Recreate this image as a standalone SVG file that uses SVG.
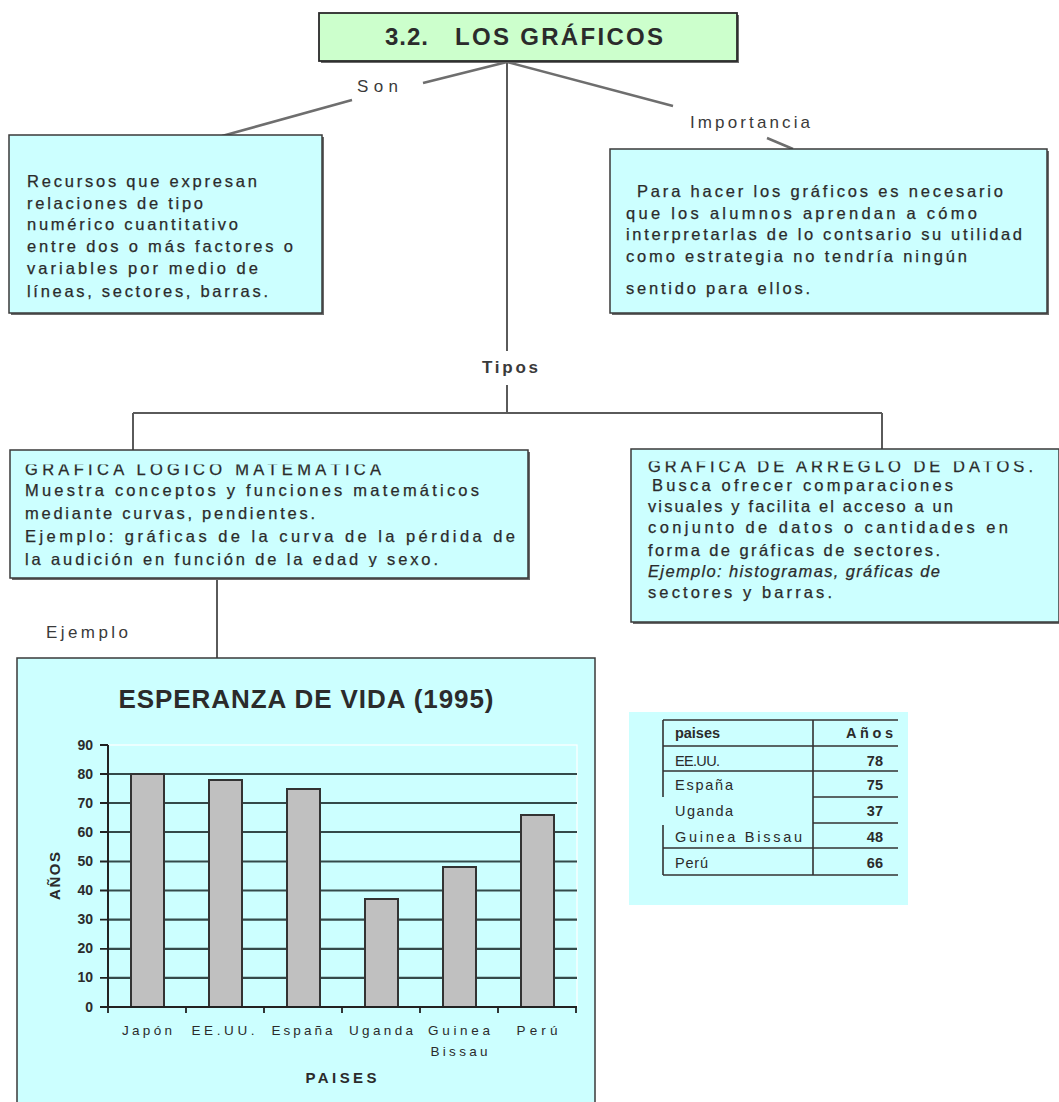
<svg xmlns="http://www.w3.org/2000/svg" width="1059" height="1102" viewBox="0 0 1059 1102">
  <style>
    text { font-family: "Liberation Sans", Arial, sans-serif; fill: #2b2b2b; }
    .body { font-size: 16.5px; stroke: #2b2b2b; stroke-width: 0.25; }
    .lbl { font-size: 17px; fill: #3a3a3a; }
    .box { fill: #ccffff; stroke: #3a3a3a; stroke-width: 1.5; }
    .shadow { fill: #6a6a6a; }
    .conn { stroke: #5a5a5a; stroke-width: 2; fill: none; }
    .slant { stroke: #6e6e6e; stroke-width: 2.5; fill: none; }
    .grid { stroke: #344a4a; stroke-width: 2.2; }
    .bar { fill: #c0c0c0; stroke: #333; stroke-width: 2; }
    .ytick { font-size: 14px; font-weight: bold; text-anchor: end; }
    .xcat { font-size: 13.5px; text-anchor: middle; }
    .tcell { font-size: 14.5px; }
    .tline { stroke: #333; stroke-width: 1.6; fill: none; }
  </style>
  <defs>
    <clipPath id="clipLogico"><rect x="10" y="464.5" width="518" height="102.5"/></clipPath>
    <clipPath id="clipArreglo"><rect x="631" y="461.5" width="428" height="159"/></clipPath>
  </defs>

  <rect x="0" y="0" width="1059" height="1102" fill="#ffffff"/>

  <!-- connectors and their labels -->
  <g id="connectors">
    <path class="slant" d="M507,62 L423,83"/>
    <path class="slant" d="M352,100 L222,136"/>
    <path class="slant" d="M507,62 L673,106"/>
    <path class="slant" d="M767,138 L793,149"/>
    <path class="conn" d="M507,62 V351"/>
    <path class="conn" d="M507,385 V413"/>
    <path class="conn" d="M133,413 H882"/>
    <path class="conn" d="M133,413 V450"/>
    <path class="conn" d="M882,413 V449"/>
    <path class="conn" d="M217,578 V658"/>
    <text class="lbl" x="357" y="92" textLength="41">Son</text>
    <text class="lbl" x="690" y="128" textLength="120">Importancia</text>
    <text class="lbl" x="482" y="373" font-weight="bold" textLength="56">Tipos</text>
    <text class="lbl" x="46" y="638" textLength="82">Ejemplo</text>
  </g>

  <!-- main title -->
  <g id="titulo">
    <rect x="321" y="15" width="418" height="48" class="shadow"/>
    <rect x="319" y="13" width="418" height="48" fill="#ccffcc" stroke="#2a2a2a" stroke-width="1.8"/>
    <text x="385" y="45" font-size="24" font-weight="bold" textLength="43">3.2.</text>
    <text x="455" y="45" font-size="24" font-weight="bold" textLength="208">LOS GRÁFICOS</text>
  </g>

  <!-- definition -->
  <g id="recursos">
    <rect x="11" y="137" width="313" height="178" class="shadow"/>
    <rect x="9" y="135" width="313" height="178" class="box"/>
    <text class="body" x="27" y="187" textLength="230">Recursos que expresan</text>
    <text class="body" x="27" y="209" textLength="176">relaciones de tipo</text>
    <text class="body" x="27" y="230" textLength="211">numérico cuantitativo</text>
    <text class="body" x="27" y="252" textLength="266">entre dos o más factores o</text>
    <text class="body" x="27" y="274" textLength="231">variables por medio de</text>
    <text class="body" x="27" y="297" textLength="241">líneas, sectores, barras.</text>
  </g>

  <!-- importance -->
  <g id="importancia">
    <rect x="612" y="151" width="437" height="164" class="shadow"/>
    <rect x="610" y="149" width="437" height="164" class="box"/>
    <text class="body" x="637" y="197" textLength="366">Para hacer los gráficos es necesario</text>
    <text class="body" x="626" y="219" textLength="351">que los alumnos aprendan a cómo</text>
    <text class="body" x="626" y="240" textLength="396">interpretarlas de lo contsario su utilidad</text>
    <text class="body" x="626" y="262" textLength="341">como estrategia no tendría ningún</text>
    <text class="body" x="626" y="294" textLength="184">sentido para ellos.</text>
  </g>

  <!-- type 1 -->
  <g id="logico">
    <rect x="12" y="452" width="518" height="128" class="shadow"/>
    <rect x="10" y="450" width="518" height="128" class="box"/>
    <g clip-path="url(#clipLogico)">
      <text class="body" x="25" y="475" textLength="356">GRÁFICA LÓGICO MATEMÁTICA</text>
      <text class="body" x="25" y="496" textLength="454">Muestra conceptos y funciones matemáticos</text>
      <text class="body" x="25" y="519" textLength="290">mediante curvas, pendientes.</text>
      <text class="body" x="25" y="542" textLength="490">Ejemplo: gráficas de la curva de la pérdida de</text>
      <text class="body" x="25" y="565" textLength="413">la audición en función de la edad y sexo.</text>
    </g>
  </g>

  <!-- type 2 -->
  <g id="arreglo">
    <rect x="633" y="451" width="428" height="173" class="shadow"/>
    <rect x="631" y="449" width="428" height="173" class="box"/>
    <g clip-path="url(#clipArreglo)">
      <text class="body" x="648" y="472" textLength="385">GRÁFICA DE ARREGLO DE DATOS.</text>
      <text class="body" x="652" y="491" textLength="301">Busca ofrecer comparaciones</text>
      <text class="body" x="648" y="512" textLength="305">visuales y facilita el acceso a un</text>
      <text class="body" x="648" y="533" textLength="360">conjunto de datos  o cantidades en</text>
      <text class="body" x="648" y="556" textLength="292">forma de gráficas  de sectores.</text>
      <text class="body" x="648" y="577" textLength="292" font-style="italic">Ejemplo: histogramas, gráficas de</text>
      <text class="body" x="648" y="598" textLength="184">sectores y barras.</text>
    </g>
  </g>

  <!-- bar chart: life expectancy -->
  <g id="grafico">
    <rect x="17" y="658" width="578" height="460" class="box"/>
    <text x="306" y="708" font-size="26" font-weight="bold" text-anchor="middle" textLength="375">ESPERANZA DE VIDA (1995)</text>
    <!-- plot frame -->
    <rect x="108" y="745" width="469" height="262" fill="none" stroke="#ffffff" stroke-width="1.2"/>
    <!-- horizontal grid, 10-year steps -->
    <g class="grid">
      <line x1="108" y1="774" x2="577" y2="774"/>
      <line x1="108" y1="803" x2="577" y2="803"/>
      <line x1="108" y1="832" x2="577" y2="832"/>
      <line x1="108" y1="861.5" x2="577" y2="861.5"/>
      <line x1="108" y1="890.5" x2="577" y2="890.5"/>
      <line x1="108" y1="919.7" x2="577" y2="919.7"/>
      <line x1="108" y1="948.8" x2="577" y2="948.8"/>
      <line x1="108" y1="977.9" x2="577" y2="977.9"/>
    </g>
    <!-- bars -->
    <rect class="bar" x="131" y="774" width="33" height="233"/>
    <rect class="bar" x="209" y="780" width="33" height="227"/>
    <rect class="bar" x="287" y="789" width="33" height="218"/>
    <rect class="bar" x="365" y="899" width="33" height="108"/>
    <rect class="bar" x="443" y="867" width="33" height="140"/>
    <rect class="bar" x="521" y="815" width="33" height="192"/>
    <!-- axes and ticks -->
    <path d="M108,745 V1008 M108,1007 H577" stroke="#222" stroke-width="2" fill="none"/>
    <path d="M100,745 H108 M100,774 H108 M100,803 H108 M100,832 H108 M100,861.5 H108 M100,890.5 H108 M100,919.7 H108 M100,948.8 H108 M100,977.9 H108 M100,1007 H108" stroke="#222" stroke-width="1.8"/>
    <path d="M108,1007 V1013 M186,1007 V1013 M264,1007 V1013 M342,1007 V1013 M420,1007 V1013 M498,1007 V1013 M576,1007 V1013" stroke="#222" stroke-width="1.8"/>
    <!-- value labels -->
    <text class="ytick" x="93" y="750">90</text>
    <text class="ytick" x="93" y="779">80</text>
    <text class="ytick" x="93" y="808">70</text>
    <text class="ytick" x="93" y="837">60</text>
    <text class="ytick" x="93" y="866">50</text>
    <text class="ytick" x="93" y="895">40</text>
    <text class="ytick" x="93" y="924">30</text>
    <text class="ytick" x="93" y="953">20</text>
    <text class="ytick" x="93" y="982">10</text>
    <text class="ytick" x="93" y="1012">0</text>
    <text transform="translate(60,876) rotate(-90)" font-size="15" font-weight="bold" text-anchor="middle" textLength="48">AÑOS</text>
    <!-- category labels -->
    <text class="xcat" x="147" y="1035" textLength="50">Japón</text>
    <text class="xcat" x="223" y="1035" textLength="63">EE.UU.</text>
    <text class="xcat" x="302" y="1035" textLength="61">España</text>
    <text class="xcat" x="381" y="1035" textLength="64">Uganda</text>
    <text class="xcat" x="459" y="1035" textLength="62">Guinea</text>
    <text class="xcat" x="459" y="1056" textLength="57">Bissau</text>
    <text class="xcat" x="537" y="1035" textLength="41">Perú</text>
    <text x="341" y="1083" font-size="15" font-weight="bold" text-anchor="middle" textLength="71">PAISES</text>
  </g>

  <!-- data table -->
  <g id="tabla">
    <rect x="629" y="712" width="279" height="193" fill="#ccffff"/>
    <path class="tline" d="M663,720 H898 M663,746 H898 M663,771 H898 M813,797 H898 M813,823 H898 M663,848 H898 M663,875 H898"/>
    <path class="tline" d="M663,720 V797 M663,825 V875 M813,720 V875"/>
    <text class="tcell" x="675" y="738" font-weight="bold" textLength="45">paises</text>
    <text class="tcell" x="893" y="738" font-weight="bold" text-anchor="end" textLength="47">Años</text>
    <text class="tcell" x="675" y="766" textLength="45">EE.UU.</text>
    <text class="tcell" x="883" y="766" font-weight="bold" text-anchor="end">78</text>
    <text class="tcell" x="675" y="790" textLength="58">España</text>
    <text class="tcell" x="883" y="790" font-weight="bold" text-anchor="end">75</text>
    <text class="tcell" x="675" y="816" textLength="58">Uganda</text>
    <text class="tcell" x="883" y="816" font-weight="bold" text-anchor="end">37</text>
    <text class="tcell" x="675" y="842" textLength="127">Guinea Bissau</text>
    <text class="tcell" x="883" y="842" font-weight="bold" text-anchor="end">48</text>
    <text class="tcell" x="675" y="868" textLength="33">Perú</text>
    <text class="tcell" x="883" y="868" font-weight="bold" text-anchor="end">66</text>
  </g>
</svg>
